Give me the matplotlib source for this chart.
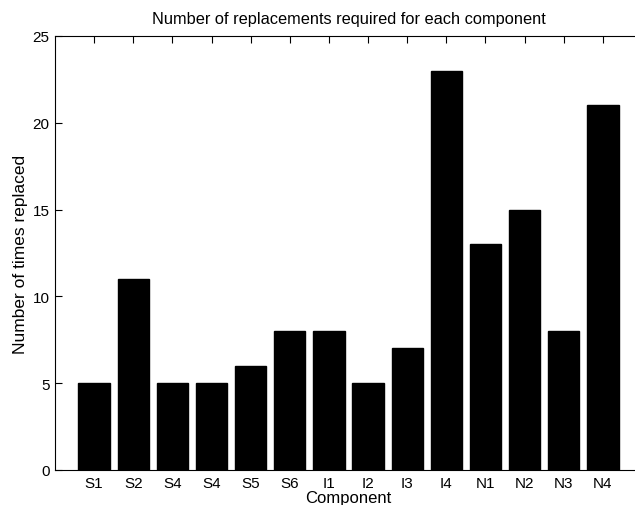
import matplotlib
matplotlib.use("Agg")
import matplotlib.pyplot as plt

components = ["S1", "S2", "S4", "S4", "S5", "S6", "I1", "I2", "I3", "I4",
              "N1", "N2", "N3", "N4"]
replacements = [5, 11, 5, 5, 6, 8, 8, 5, 7, 23, 13, 15, 8, 21]

plt.rcParams["font.family"] = ["Liberation Sans", "DejaVu Sans"]

W, H = 635, 506
fig = plt.figure(figsize=(W / 100, H / 100), dpi=100)
# axes runs slightly past the right edge, like the cropped original
left, right, top, bottom = 55, 642, 37, 471
ax = fig.add_axes([left / W, 1 - bottom / H, (right - left) / W, (bottom - top) / H])

x = list(range(1, len(components) + 1))
ax.bar(x, replacements, width=0.8, color="black", edgecolor="black")

ax.set_xlim(0, 15)
ax.set_ylim(0, 25)
ax.set_xticks(x)
ax.set_xticklabels(components)
ax.set_yticks([0, 5, 10, 15, 20, 25])
ax.tick_params(direction="in", length=5, labelsize=11, top=True, right=True,
               width=0.8, pad=4)
for s in ax.spines.values():
    s.set_linewidth(0.8)

ax.set_title("Number of replacements required for each component", fontsize=11.8, pad=9)
ax.set_xlabel("Component", fontsize=12, labelpad=0)
ax.set_ylabel("Number of times replaced", fontsize=12.5, labelpad=3)

fig.savefig("out.png", dpi=100)
